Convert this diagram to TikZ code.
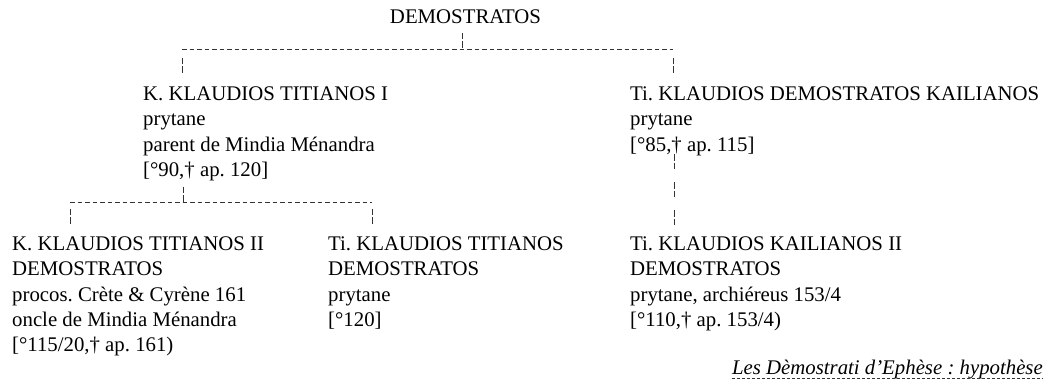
\documentclass[tikz,border=0pt]{standalone}
\usepackage{fontspec}
\setmainfont{Liberation Serif}
\frenchspacing
\begin{document}
\begin{tikzpicture}[x=1pt,y=-1pt,
  person/.style={anchor=north west,inner sep=0pt,align=left,
    font=\fontsize{20.8}{25.3}\selectfont\frenchspacing},
  hdash/.style={draw=black!80,line width=0.7pt,dash pattern=on 4.5pt off 3pt},
  vdash/.style={draw=black!80,line width=0.7pt,dash pattern=on 6.5pt off 2pt on 6.5pt off 13pt},
  udash/.style={draw=black!80,line width=0.6pt,dash pattern=on 3pt off 2pt}]
\useasboundingbox (0,0) rectangle (1059,385);

% nodes
\node[inner sep=0pt,anchor=base,font=\fontsize{20.8}{25.3}\selectfont] (demo) at (465.5,23.3) {DEMOSTRATOS};
\node[person] (kt1) at (143,86.6) {K. KLAUDIOS TITIANOS I\\prytane\\parent de Mindia Ménandra\\{[°90,† ap. 120]}};
\node[person] (kd) at (630,86.6) {Ti. KLAUDIOS DEMOSTRATOS KAILIANOS\\prytane\\{[°85,† ap. 115]}};
\node[person] (kt2) at (12,236.6) {K. KLAUDIOS TITIANOS II\\DEMOSTRATOS\\procos. Crète \& Cyrène 161\\oncle de Mindia Ménandra\\{[°115/20,† ap. 161)}};
\node[person] (tt) at (328,236.6) {Ti. KLAUDIOS TITIANOS\\DEMOSTRATOS\\prytane\\{[°120]}};
\node[person] (kk) at (630,236.6) {Ti. KLAUDIOS KAILIANOS II\\DEMOSTRATOS\\prytane, archiéreus 153/4\\{[°110,† ap. 153/4)}};
\node[inner sep=0pt,anchor=base east,font=\fontsize{20.8}{25.3}\selectfont\itshape\frenchspacing] (cap) at (1043,374.5) {Les Dèmostrati d’Ephèse : hypothèse};

% junction coordinates
\coordinate (demoDn) at (462,33);
\coordinate (bar1M) at (462,49.5);
\coordinate (bar1L) at (182,49.5);
\coordinate (bar1R) at (673,49.5);
\coordinate (kt1Up) at (182,58);
\coordinate (kt1Top) at (182,73);
\coordinate (kdUp) at (673,58);
\coordinate (kdTop) at (673,73);
\coordinate (kt1Dn) at (183,186.5);
\coordinate (bar2M) at (183,202);
\coordinate (bar2L) at (70,202);
\coordinate (bar2R) at (372,202);
\coordinate (kt2Up) at (70,208.5);
\coordinate (kt2Top) at (70,224);
\coordinate (ttUp) at (372,208.5);
\coordinate (ttTop) at (372,224);
\coordinate (kdDn) at (674,154);
\coordinate (kkTop) at (674,225);

% connectors
\draw[vdash] (demoDn) -- (bar1M);
\draw[hdash] (bar1L) -- (bar1R);
\draw[vdash] (kt1Up) -- (kt1Top);
\draw[vdash] (kdUp) -- (kdTop);
\draw[vdash] (kt1Dn) -- (bar2M);
\draw[hdash] (bar2L) -- (bar2R);
\draw[vdash] (kt2Up) -- (kt2Top);
\draw[vdash] (ttUp) -- (ttTop);
\draw[vdash] (kdDn) -- (kkTop);

% caption underline
\draw[udash] ([yshift=-3.5pt]cap.base west) -- ([yshift=-3.5pt]cap.base east);
\end{tikzpicture}
\end{document}
